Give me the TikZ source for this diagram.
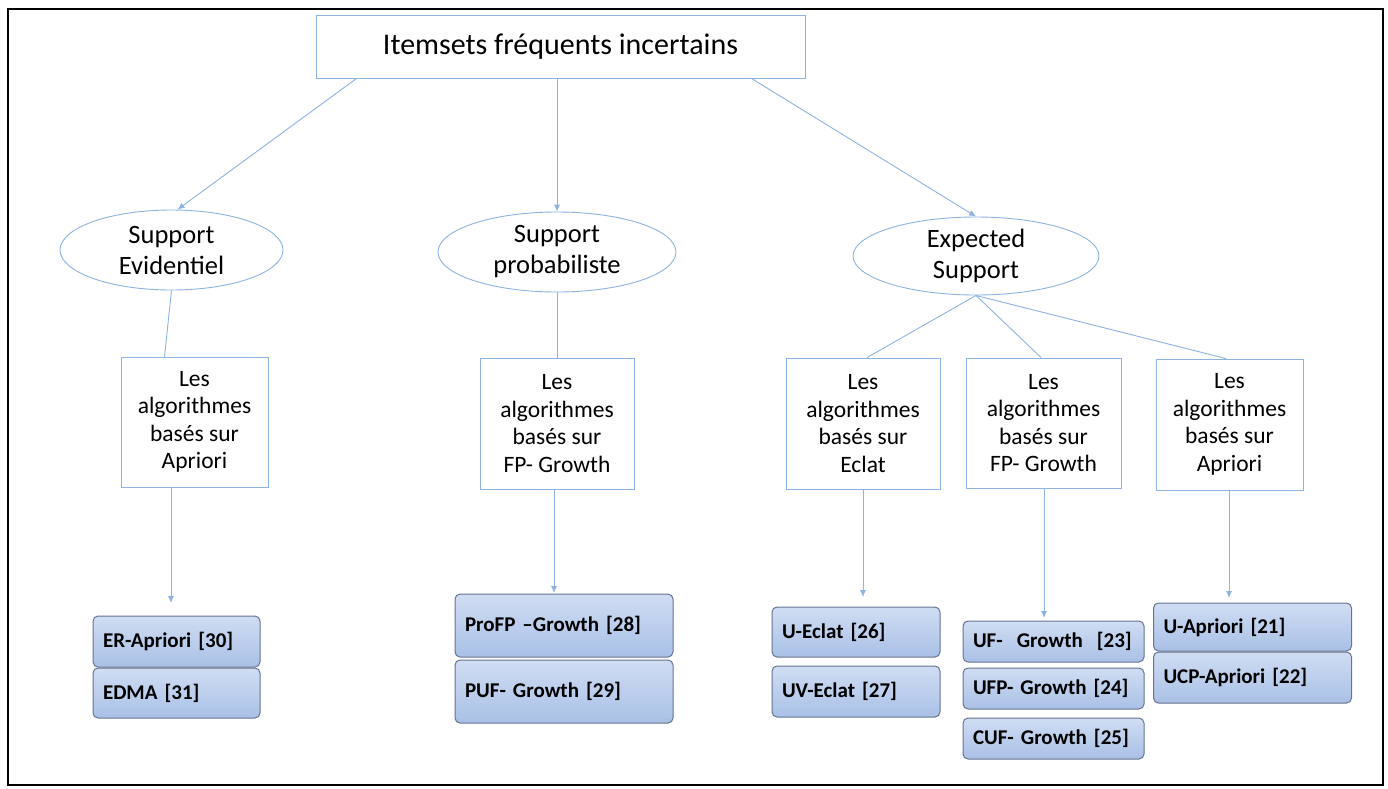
\documentclass[tikz,border=0pt]{standalone}
\usepackage{fontspec}
\setmainfont{Carlito}
\usetikzlibrary{arrows.meta,shapes.geometric}
\definecolor{linkblue}{HTML}{8DB3E2}
\definecolor{leaftop}{HTML}{D0DDF3}
\definecolor{leafbot}{HTML}{A9C0E6}
\definecolor{leafedge}{HTML}{66748F}

\begin{document}
\begin{tikzpicture}[x=1pt,y=-1pt,
  link/.style={draw=linkblue, line width=0.9pt},
  arr/.style={link, -{Latex[length=7pt,width=6pt]}},
  topbox/.style={draw=linkblue, line width=0.9pt, minimum width=489pt, minimum height=63pt,
                 font=\fontsize{30}{35}\selectfont},
  oval/.style={ellipse, draw=linkblue, line width=0.9pt, align=center, inner sep=0pt,
               font=\fontsize{26.5}{31}\selectfont},
  algo/.style={draw=linkblue, line width=0.9pt, align=center, inner sep=0pt,
               font=\fontsize{23.5}{27.5}\selectfont},
  leaf/.style={draw=leafedge, line width=1pt, rounded corners=5pt, top color=leaftop,
               bottom color=leafbot, align=left, inner xsep=10pt, inner ysep=0pt,
               font=\bfseries\fontsize{21}{24}\selectfont},
]
\useasboundingbox (0,0) rectangle (1388,788);
\fill[white] (0,0) rectangle (1388,788);
\draw[line width=1.6pt] (8,9) rectangle (1383,785);

% root and the three kinds of support
\node[topbox] (root) at (560.5,46.5) {Itemsets fréquents incertains};
\node[oval, minimum width=223pt, minimum height=80pt] (sev) at (171.5,250) {Support\\Evidentiel};
\node[oval, minimum width=238pt, minimum height=80pt] (spr) at (557,252) {Support\\probabiliste};
\node[oval, minimum width=246pt, minimum height=78pt] (sex) at (976,256) {Expected\\Support};

% algorithm families
\node[algo, minimum width=147pt, minimum height=130pt] (ba) at (194.5,422) {Les\\algorithmes\\basés sur\\Apriori};
\node[algo, minimum width=154pt, minimum height=131pt] (bb) at (557,423.5) {Les\\algorithmes\\basés sur\\FP- Growth};
\node[algo, minimum width=154pt, minimum height=131pt] (bc) at (863,423.5) {Les\\algorithmes\\basés sur\\Eclat};
\node[algo, minimum width=155pt, minimum height=130pt] (bd) at (1043.5,423) {Les\\algorithmes\\basés sur\\FP- Growth};
\node[algo, minimum width=147pt, minimum height=131pt] (be) at (1229.5,424.5) {Les\\algorithmes\\basés sur\\Apriori};

% algorithms
\node[leaf, text width=147pt, minimum height=51pt] (l1) at (176.5,641.5) {ER-Apriori [30]};
\node[leaf, text width=147pt, minimum height=50pt] (l2) at (176.5,693) {EDMA [31]};
\node[leaf, text width=198pt, minimum height=63pt] (l3) at (564,625.5) {ProFP –Growth [28]};
\node[leaf, text width=198pt, minimum height=63pt] (l4) at (564,691.5) {PUF- Growth [29]};
\node[leaf, text width=148pt, minimum height=50pt] (l5) at (856,632) {U-Eclat [26]};
\node[leaf, text width=148pt, minimum height=51pt] (l6) at (856,691.5) {UV-Eclat [27]};
\node[leaf, text width=161pt, minimum height=41pt] (l7) at (1053.5,641.5) {UF-\ \ Growth\ \ [23]};
\node[leaf, text width=161pt, minimum height=41pt] (l8) at (1053.5,688.5) {UFP- Growth [24]};
\node[leaf, text width=161pt, minimum height=41pt] (l9) at (1053.5,738.5) {CUF- Growth [25]};
\node[leaf, text width=178pt, minimum height=48pt] (l10) at (1252.5,627) {U-Apriori [21]};
\node[leaf, text width=178pt, minimum height=51pt] (l11) at (1252.5,677.5) {UCP-Apriori [22]};

% arrow tips above the algorithm lists
\coordinate (ta) at (171,603);
\coordinate (tb) at (554,593);
\coordinate (tc) at (863,597);
\coordinate (td) at (1044,618);
\coordinate (te) at (1229,598);

% connectors
\draw[arr] ([xshift=41pt]root.south west) -- ([xshift=6pt]sev.north);
\draw[arr] (spr.north |- root.south) -- (spr.north);
\draw[arr] ([xshift=-54pt]root.south east) -- (sex.north);

\draw[link] (sev.south) -- ([xshift=-30pt]ba.north);
\draw[link] (spr.south) -- (bb.north);
\draw[link] (sex.south) -- ([xshift=4pt]bc.north);
\draw[link] (sex.south) -- ([xshift=-2.5pt]bd.north);
\draw[link] (sex.south) -- ([xshift=-3.5pt]be.north);

\draw[arr] (ba.south -| ta) -- (ta);
\draw[arr] (bb.south -| tb) -- (tb);
\draw[arr] (bc.south -| tc) -- (tc);
\draw[arr] (bd.south -| td) -- (td);
\draw[arr] (be.south -| te) -- (te);
\end{tikzpicture}
\end{document}
